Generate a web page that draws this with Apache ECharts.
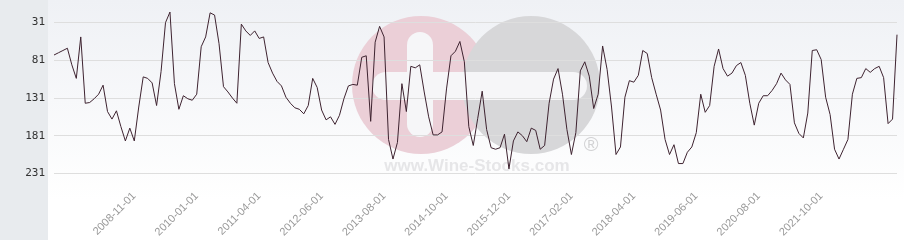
<!DOCTYPE html>
<html>
<head>
<meta charset="utf-8">
<script src="https://cdn.jsdelivr.net/npm/echarts@6/dist/echarts.min.js"></script>
<style>
html,body{margin:0;padding:0;background:#fff;}
#chart{width:904px;height:240px;}
</style>
</head>
<body>
<div id="chart"></div>
<script>
// ---- data ----
var startYear = 2007, startMonth = 5, skippedMonth = '2010-07-01', pointCount = 190;
var categories = [];
(function () {
  var y = startYear, m = startMonth;
  while (categories.length < pointCount) {
    var s = y + '-' + (m < 10 ? '0' + m : m) + '-01';
    if (s !== skippedMonth) categories.push(s);
    m++; if (m > 12) { m = 1; y++; }
  }
})();

var rankValues = [
  74, 71, 68, 65, 87, 105, 50, 138, 137, 132,
  126, 114, 149, 159, 148, 169, 188, 171, 188, 143,
  103, 105, 111, 141, 96, 31, 17, 112, 146, 128,
  132, 134, 126, 63, 50, 18, 21, 59, 116, 123,
  131, 138, 33, 42, 48, 42, 52, 50, 84, 98,
  109, 115, 130, 138, 144, 146, 152, 141, 105, 117,
  147, 160, 156, 166, 154, 132, 115, 113, 114, 77,
  75, 162, 57, 36, 50, 186, 212, 190, 112, 149,
  89, 91, 87, 123, 156, 180, 180, 176, 119, 75,
  69, 56, 83, 169, 194, 158, 122, 173, 197, 199,
  197, 179, 225, 188, 176, 181, 189, 171, 174, 199,
  194, 138, 106, 92, 126, 173, 206, 177, 95, 83,
  102, 145, 126, 62, 93, 143, 206, 196, 130, 108,
  110, 101, 68, 72, 104, 126, 147, 186, 206, 193,
  218, 218, 203, 196, 177, 126, 150, 141, 89, 66,
  92, 102, 98, 88, 84, 101, 138, 167, 138, 128,
  128, 121, 112, 98, 107, 113, 164, 178, 184, 151,
  68, 67, 80, 130, 153, 199, 212, 199, 186, 126,
  105, 104, 92, 97, 92, 89, 104, 165, 159, 47
];

var xTickLabels = ['2008-11-01', '2010-01-01', '2011-04-01', '2012-06-01', '2013-08-01',
  '2014-10-01', '2015-12-01', '2017-02-01', '2018-04-01', '2019-06-01', '2020-08-01', '2021-10-01'];
var yTickLabels = [31, 81, 131, 181, 231];

// ---- chart ----
var chart = echarts.init(document.getElementById('chart'), null, { renderer: 'canvas' });
var option = {
  animation: false,
  graphic: [
    { type: 'rect', z: -10, shape: { x: 0, y: 0, width: 48, height: 240 }, style: { fill: '#e8ebee' } },
    { type: 'rect', z: -10, shape: { x: 48, y: 0, width: 856, height: 200 },
      style: { fill: new echarts.graphic.LinearGradient(0, 0, 0, 1, [
        { offset: 0, color: '#eff1f5' }, { offset: 1, color: '#ffffff' }]) } },
    { type: 'circle', z: -9, shape: { cx: 421, cy: 85, r: 69 }, style: { fill: '#ebcfd7' } },
    { type: 'circle', z: -9, shape: { cx: 531, cy: 85, r: 69 }, style: { fill: '#d7d7d9' } },
    { type: 'rect', z: -8, shape: { x: 372, y: 72, width: 215, height: 28, r: 14 }, style: { fill: '#f6f6f8' } },
    { type: 'rect', z: -8, shape: { x: 407, y: 32, width: 26, height: 105, r: 13 }, style: { fill: '#f6f6f8' } },
    { type: 'text', z: -8, x: 477, y: 166,
      style: { text: 'www.Wine-Stocks.com', font: 'bold 17px "Liberation Sans", Arial, sans-serif',
        fill: '#e6e6e8', align: 'center', verticalAlign: 'middle' } },
    { type: 'text', z: -8, x: 591, y: 145,
      style: { text: '®', font: '20px "Liberation Sans", Arial, sans-serif',
        fill: '#d2d2d4', align: 'center', verticalAlign: 'middle' } }
  ],
  grid: { left: 54, right: 7, top: 0, bottom: 42, containLabel: false },
  xAxis: {
    type: 'category',
    data: categories,
    boundaryGap: false,
    axisLine: { show: false },
    axisTick: { show: false },
    splitLine: { show: false },
    axisLabel: {
      rotate: 45,
      margin: 2,
      color: '#999999',
      fontSize: 11,
      fontFamily: '"Liberation Sans", Arial, sans-serif',
      interval: function (idx, val) { return xTickLabels.indexOf(val) >= 0; }
    }
  },
  yAxis: {
    type: 'value',
    inverse: true,
    min: 1,
    max: 256,
    axisLine: { show: false },
    axisTick: { show: false, customValues: yTickLabels },
    axisLabel: {
      customValues: yTickLabels,
      color: '#333333',
      fontSize: 11,
      fontFamily: '"DejaVu Sans Mono", monospace',
      margin: 9
    },
    splitLine: { show: true, lineStyle: { color: '#dedede', width: 1 } }
  },
  series: [{
    type: 'line',
    data: rankValues,
    showSymbol: false,
    symbol: 'none',
    smooth: false,
    lineStyle: { color: '#3e2330', width: 1 },
    itemStyle: { color: '#3e2330' }
  }]
};
chart.setOption(option);
</script>
</body>
</html>
